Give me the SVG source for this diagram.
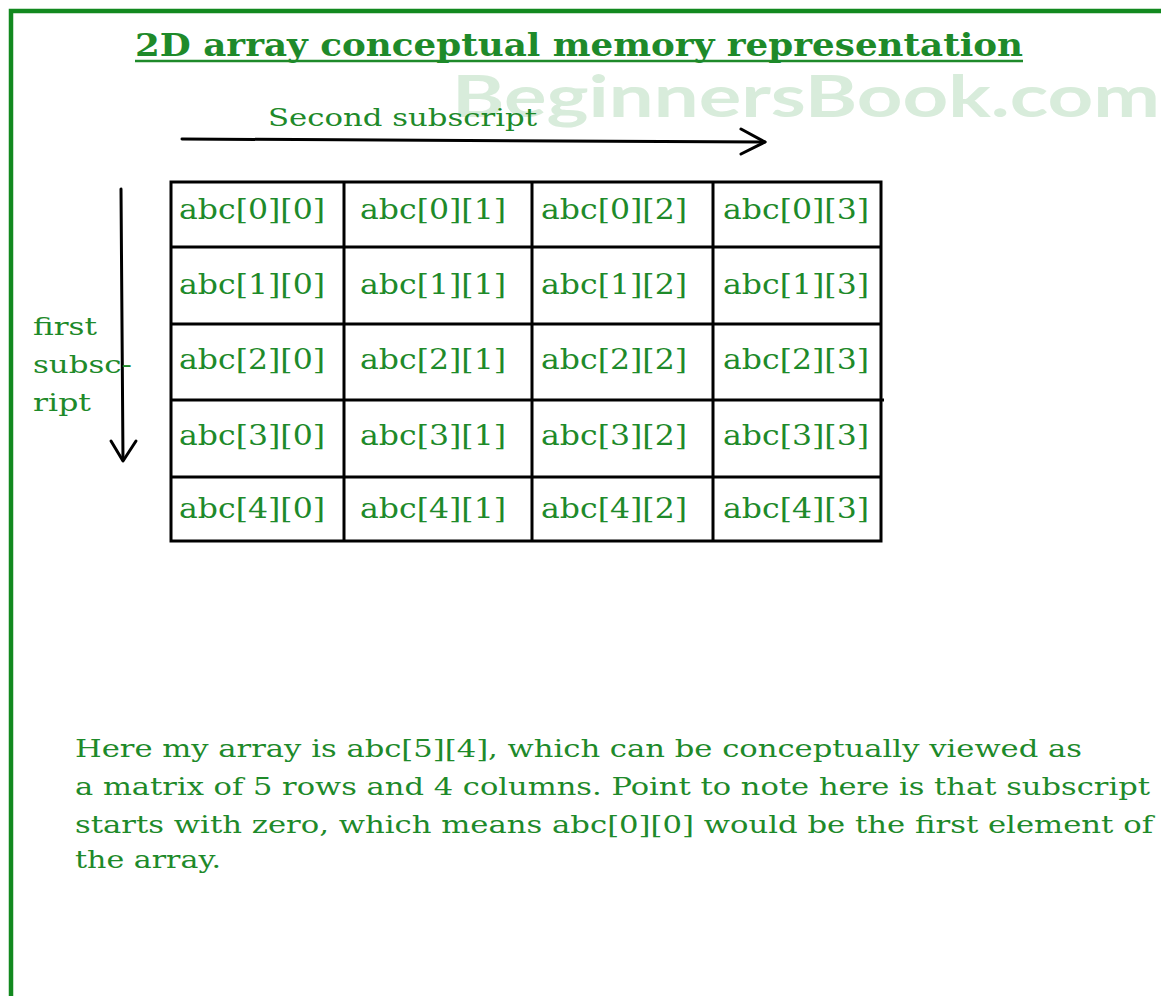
<svg xmlns="http://www.w3.org/2000/svg" width="1161" height="996" viewBox="0 0 1161 996">
<defs>
<style>
.g{fill:#1e8a2a;font-family:"DejaVu Serif","Liberation Serif",serif}
.cell{font-size:27px}
.ln{stroke:#000;stroke-width:3;fill:none}
.ar{stroke:#000;stroke-width:3;fill:none;stroke-linecap:round;stroke-linejoin:round}
</style>
</defs>
<rect x="0" y="0" width="1161" height="996" fill="#fff"/>
<path d="M11,1000 L11,11 L1170,11" fill="none" stroke="#12891f" stroke-width="4.5"/>
<text x="452" y="117" font-family="Lato,'Open Sans',sans-serif" font-weight="bold" font-size="58" fill="#d8ecdb" textLength="708" lengthAdjust="spacingAndGlyphs">BeginnersBook.com</text>
<g id="title">
<text class="g" x="135" y="56" font-size="31" font-weight="bold" textLength="888" lengthAdjust="spacingAndGlyphs">2D array conceptual memory representation</text>
<line x1="135" y1="61" x2="1023" y2="61" stroke="#1e8a2a" stroke-width="2.5"/>
</g>
<g id="connectors">
<path class="ar" d="M182,139 L765,142"/>
<path class="ar" d="M741,129 L765,142 L741,154"/>
<path class="ar" d="M121,189 L123,460"/>
<path class="ar" d="M111,441 L123,461 L136,441"/>
</g>
<g id="label-second">
<text class="g" x="268" y="126" font-size="25" textLength="269" lengthAdjust="spacingAndGlyphs">Second subscript</text>
</g>
<g id="label-first" class="g" font-size="25">
<text x="33" y="335" textLength="64" lengthAdjust="spacingAndGlyphs">first</text>
<text x="33" y="373" textLength="99" lengthAdjust="spacingAndGlyphs">subsc-</text>
<text x="33" y="411" textLength="58" lengthAdjust="spacingAndGlyphs">ript</text>
</g>
<g id="grid">
<rect class="ln" x="171" y="182" width="710" height="359"/>
<line class="ln" x1="344" y1="182" x2="344" y2="541"/>
<line class="ln" x1="532" y1="182" x2="532" y2="541"/>
<line class="ln" x1="713" y1="182" x2="713" y2="541"/>
<line class="ln" x1="171" y1="247" x2="881" y2="247"/>
<line class="ln" x1="171" y1="324" x2="881" y2="324"/>
<line class="ln" x1="171" y1="400" x2="884" y2="400"/>
<line class="ln" x1="171" y1="477" x2="881" y2="477"/>
</g>
<g id="cells" class="g cell">
<text x="179" y="219" textLength="146" lengthAdjust="spacingAndGlyphs">abc[0][0]</text>
<text x="360" y="219" textLength="146" lengthAdjust="spacingAndGlyphs">abc[0][1]</text>
<text x="541" y="219" textLength="146" lengthAdjust="spacingAndGlyphs">abc[0][2]</text>
<text x="723" y="219" textLength="146" lengthAdjust="spacingAndGlyphs">abc[0][3]</text>
<text x="179" y="294" textLength="146" lengthAdjust="spacingAndGlyphs">abc[1][0]</text>
<text x="360" y="294" textLength="146" lengthAdjust="spacingAndGlyphs">abc[1][1]</text>
<text x="541" y="294" textLength="146" lengthAdjust="spacingAndGlyphs">abc[1][2]</text>
<text x="723" y="294" textLength="146" lengthAdjust="spacingAndGlyphs">abc[1][3]</text>
<text x="179" y="369" textLength="146" lengthAdjust="spacingAndGlyphs">abc[2][0]</text>
<text x="360" y="369" textLength="146" lengthAdjust="spacingAndGlyphs">abc[2][1]</text>
<text x="541" y="369" textLength="146" lengthAdjust="spacingAndGlyphs">abc[2][2]</text>
<text x="723" y="369" textLength="146" lengthAdjust="spacingAndGlyphs">abc[2][3]</text>
<text x="179" y="445" textLength="146" lengthAdjust="spacingAndGlyphs">abc[3][0]</text>
<text x="360" y="445" textLength="146" lengthAdjust="spacingAndGlyphs">abc[3][1]</text>
<text x="541" y="445" textLength="146" lengthAdjust="spacingAndGlyphs">abc[3][2]</text>
<text x="723" y="445" textLength="146" lengthAdjust="spacingAndGlyphs">abc[3][3]</text>
<text x="179" y="518" textLength="146" lengthAdjust="spacingAndGlyphs">abc[4][0]</text>
<text x="360" y="518" textLength="146" lengthAdjust="spacingAndGlyphs">abc[4][1]</text>
<text x="541" y="518" textLength="146" lengthAdjust="spacingAndGlyphs">abc[4][2]</text>
<text x="723" y="518" textLength="146" lengthAdjust="spacingAndGlyphs">abc[4][3]</text>
</g>
<g id="note" class="g" font-size="25">
<text x="75" y="757" textLength="1007" lengthAdjust="spacingAndGlyphs">Here my array is abc[5][4], which can be conceptually viewed as</text>
<text x="75" y="795" textLength="1075" lengthAdjust="spacingAndGlyphs">a matrix of 5 rows and 4 columns. Point to note here is that subscript</text>
<text x="75" y="833" textLength="1078" lengthAdjust="spacingAndGlyphs">starts with zero, which means abc[0][0] would be the first element of</text>
<text x="75" y="868" textLength="146" lengthAdjust="spacingAndGlyphs">the array.</text>
</g>
</svg>
